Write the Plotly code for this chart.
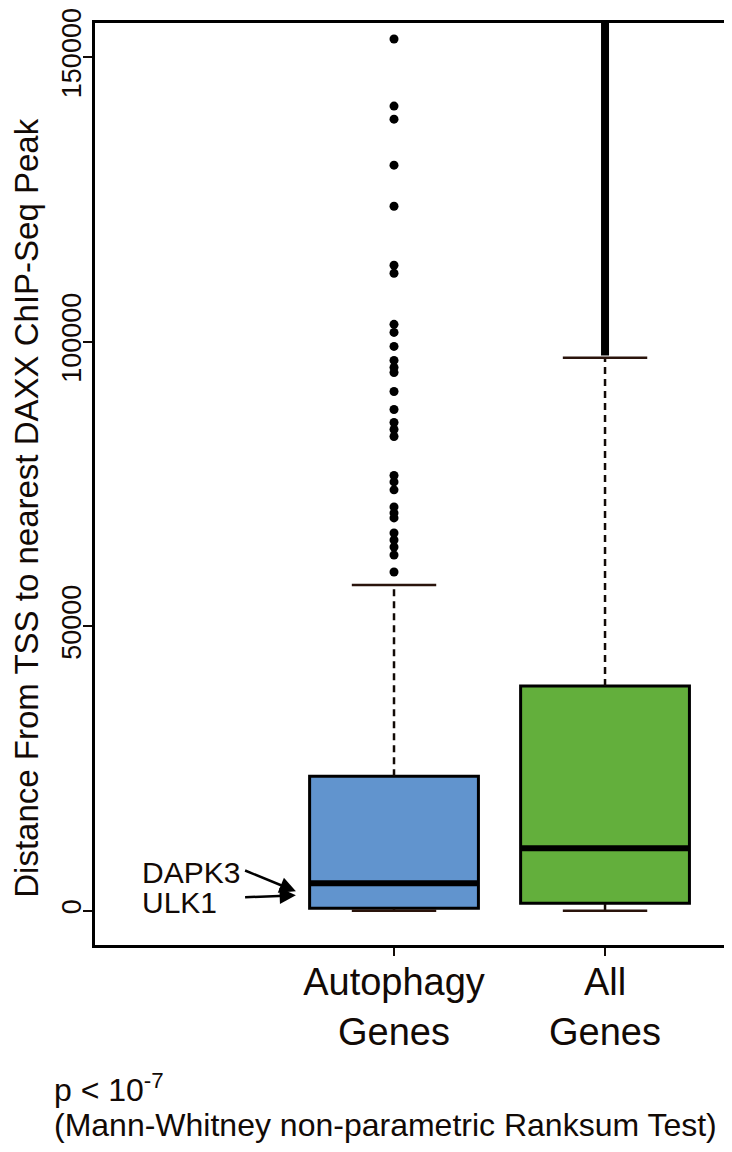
import plotly.graph_objects as go

# box statistics
groups = ['Autophagy<br>Genes', 'All<br>Genes']
positions = [1, 2]
lower_whisker = [0, 0]
q1 = [440, 1320]
median = [4840, 10990]
q3 = [23660, 39490]
upper_whisker = [57260, 97190]
box_colors = ['#6194CE', '#63AF3C']

autophagy_outliers = [
    153190, 141400, 139110, 131020, 123810, 113430, 112030, 103050, 101640,
    99180, 96710, 95480, 94600, 91260, 88090, 85810, 84580, 83350, 76490,
    75370, 73970, 70980, 69920, 69040, 66400, 65170, 63940, 62530, 59540,
]
# all genes: outliers so dense they merge into a solid band
all_outlier_band = [97600, 160000]

gene_labels = ['DAPK3', 'ULK1']
gene_values = [3430, 2730]

y_ticks = [0, 50000, 100000, 150000]

font = 'Arial, Liberation Sans, Helvetica, sans-serif'
ink = '#120a06'
box_w = 0.8
cap_w = 0.4

fig = go.Figure()

for i in range(2):
    x = positions[i]
    fig.add_trace(go.Box(
        x=[x], q1=[q1[i]], median=[median[i]], q3=[q3[i]],
        lowerfence=[q1[i]], upperfence=[q3[i]],
        width=box_w, whiskerwidth=0, boxpoints=False,
        fillcolor=box_colors[i], line=dict(color='black', width=3),
        showlegend=False, hoverinfo='skip',
    ))
    # dashed whiskers
    for a, b in [(q3[i], upper_whisker[i]), (lower_whisker[i], q1[i])]:
        fig.add_trace(go.Scatter(
            x=[x, x], y=[a, b], mode='lines',
            line=dict(color=ink, width=2.5, dash='7px,5px'),
            showlegend=False, hoverinfo='skip',
        ))
    # staples
    for v in [upper_whisker[i], lower_whisker[i]]:
        fig.add_trace(go.Scatter(
            x=[x - cap_w / 2, x + cap_w / 2], y=[v, v], mode='lines',
            line=dict(color='#2a140c', width=2.5),
            showlegend=False, hoverinfo='skip',
        ))
    # thick median
    fig.add_trace(go.Scatter(
        x=[x - box_w / 2, x + box_w / 2], y=[median[i], median[i]],
        mode='lines', line=dict(color='black', width=6),
        showlegend=False, hoverinfo='skip',
    ))

fig.add_trace(go.Scatter(
    x=[positions[0]] * len(autophagy_outliers), y=autophagy_outliers,
    mode='markers', marker=dict(color='black', size=9),
    showlegend=False, hoverinfo='skip',
))
fig.add_trace(go.Scatter(
    x=[positions[1]] * 2, y=all_outlier_band, mode='lines',
    line=dict(color='black', width=8),
    showlegend=False, hoverinfo='skip',
))

# gene arrows
tails = [(0.28, 7300), (0.28, 2370)]
for i in range(2):
    fig.add_annotation(
        x=0.535, y=gene_values[i], ax=tails[i][0], ay=tails[i][1],
        xref='x', yref='y', axref='x', ayref='y', text=' ',
        showarrow=True, arrowhead=2, arrowsize=1.3, arrowwidth=2.5,
        arrowcolor='black',
    )
label_y = [6790, 1500]
for i in range(2):
    fig.add_annotation(
        x=-0.205, y=label_y[i], xref='x', yref='y', text=gene_labels[i],
        showarrow=False, xanchor='left', yanchor='middle',
        font=dict(family=font, size=30, color=ink),
    )

# y-axis title
fig.add_annotation(
    x=-0.108, y=0.474, xref='paper', yref='paper', textangle=-90,
    text='Distance From TSS to nearest DAXX ChIP-Seq Peak', showarrow=False,
    xanchor='center', yanchor='middle',
    font=dict(family=font, size=33, color=ink),
)

fig.add_annotation(
    x=-0.068, y=-0.155, xref='paper', yref='paper',
    text='p < 10<sup>-7</sup>', showarrow=False,
    xanchor='left', yanchor='middle',
    font=dict(family=font, size=32, color=ink),
)
fig.add_annotation(
    x=-0.068, y=-0.195, xref='paper', yref='paper',
    text='(Mann-Whitney non-parametric Ranksum Test)', showarrow=False,
    xanchor='left', yanchor='middle',
    font=dict(family=font, size=32, color=ink),
)

fig.update_layout(
    width=724, height=1144,
    margin=dict(l=87, r=5, t=15, b=207),
    paper_bgcolor='white', plot_bgcolor='white',
    font=dict(family=font, color=ink),
    xaxis=dict(
        range=[-0.417, 2.578], tickvals=positions, ticktext=groups,
        ticks='outside', ticklen=8, tickwidth=2, tickcolor=ink,
        tickfont=dict(size=38, color=ink), ticklabelstandoff=-6,
        showline=True, linecolor='black', linewidth=2.5, mirror=True,
        showgrid=False, zeroline=False, automargin=False,
    ),
    yaxis=dict(
        range=[-6000, 156000], tickvals=y_ticks,
        ticktext=[str(v) for v in y_ticks], tickangle=-90,
        ticks='outside', ticklen=9, tickwidth=2, tickcolor=ink,
        tickfont=dict(size=27, color=ink), ticklabelstandoff=-9,
        ticklabeloverflow='allow',
        showline=True, linecolor='black', linewidth=2.5, mirror=True,
        showgrid=False, zeroline=False, automargin=False,
    ),
)

fig.write_html('out.html')
